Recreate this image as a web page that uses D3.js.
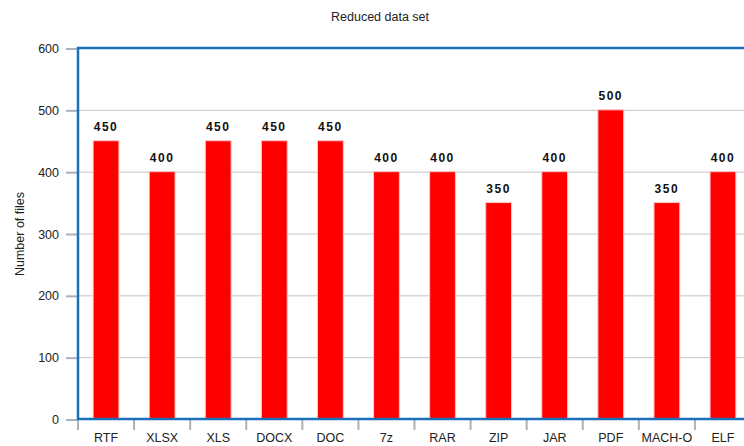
<!DOCTYPE html>
<html>
<head>
<meta charset="utf-8">
<script src="https://cdn.jsdelivr.net/npm/d3@7"></script>
<style>
  html, body { margin: 0; padding: 0; background: #fff; overflow: hidden; }
  svg { display: block; font-family: "Liberation Sans", Arial, sans-serif; }
</style>
</head>
<body>
<svg id="chart" width="744" height="446"></svg>
<script>
// File formats and the number of files for each in the reduced data set
const categories = ["RTF", "XLSX", "XLS", "DOCX", "DOC", "7z", "RAR", "ZIP", "JAR", "PDF", "MACH-O", "ELF"];
const fileCounts = [450, 400, 450, 450, 450, 400, 400, 350, 400, 500, 350, 400];
const yTicks = [0, 100, 200, 300, 400, 500, 600];
const chartTitle = "Reduced data set";
const yAxisLabel = "Number of files";

const svg = d3.select("#chart");
const margin = { left: 78, top: 48, bottom: 419, right: 751 };

const x = d3.scaleBand()
  .domain(categories)
  .range([margin.left, margin.right])
  .paddingInner(0.54)
  .paddingOuter(0.27);

const y = d3.scaleLinear()
  .domain([0, 600])
  .range([margin.bottom, margin.top]);

// Horizontal gridlines
svg.append("g")
  .selectAll("line")
  .data(yTicks.filter(d => d > 0 && d < 600))
  .join("line")
  .attr("x1", margin.left)
  .attr("x2", margin.right)
  .attr("y1", d => y(d) + 0.5)
  .attr("y2", d => y(d) + 0.5)
  .attr("stroke", "#c4c4c4")
  .attr("stroke-width", 1);

// Y axis: ticks and labels
const yAxis = d3.axisLeft(y)
  .tickValues(yTicks)
  .tickSize(12)
  .tickPadding(7);
const yg = svg.append("g")
  .attr("transform", `translate(${margin.left},0.5)`)
  .call(yAxis);
yg.select(".domain").remove();
yg.selectAll(".tick line").attr("stroke", "#a9b2bc").attr("stroke-width", 2);
yg.selectAll(".tick text")
  .attr("fill", "#222")
  .style("font-size", "12.5px")
  .style("font-family", "'Liberation Sans', Arial, sans-serif");

// X axis: boundary ticks between categories and centered labels
const boundaries = categories.map((c, i) => margin.left + i * x.step());
svg.append("g")
  .selectAll("line")
  .data(boundaries)
  .join("line")
  .attr("x1", d => d)
  .attr("x2", d => d)
  .attr("y1", margin.bottom)
  .attr("y2", margin.bottom + 11)
  .attr("stroke", "#a9b2bc")
  .attr("stroke-width", 2);

svg.append("g")
  .selectAll("text")
  .data(categories)
  .join("text")
  .attr("x", d => x(d) + x.bandwidth() / 2)
  .attr("y", 442)
  .attr("text-anchor", "middle")
  .attr("fill", "#222")
  .style("font-size", "12.5px")
  .text(d => d);

// Bars
const data = categories.map((c, i) => ({ cat: c, value: fileCounts[i] }));
svg.append("g")
  .selectAll("rect")
  .data(data)
  .join("rect")
  .attr("x", d => x(d.cat))
  .attr("y", d => y(d.value))
  .attr("width", x.bandwidth())
  .attr("height", d => y(0) - y(d.value))
  .attr("fill", "#ff0000")
  .attr("stroke", "#ffc4c4")
  .attr("stroke-width", 1);

// Value labels above bars
svg.append("g")
  .selectAll("text")
  .data(data)
  .join("text")
  .attr("x", d => x(d.cat) + x.bandwidth() / 2)
  .attr("y", d => y(d.value) - 10)
  .attr("text-anchor", "middle")
  .attr("fill", "#111")
  .style("font-size", "12px")
  .style("font-weight", "bold")
  .style("letter-spacing", "1.5px")
  .text(d => d.value);

// Plot frame (left, top, bottom)
svg.append("path")
  .attr("d", `M${margin.right + 2},${margin.top} H${margin.left} V${margin.bottom} H${margin.right + 2}`)
  .attr("fill", "none")
  .attr("stroke", "#1c6fb9")
  .attr("stroke-width", 2.5);

// Title
svg.append("text")
  .attr("x", 380)
  .attr("y", 21)
  .attr("text-anchor", "middle")
  .attr("fill", "#222")
  .style("font-size", "12.5px")
  .text(chartTitle);

// Y axis label
svg.append("text")
  .attr("transform", `translate(24,234) rotate(-90)`)
  .attr("text-anchor", "middle")
  .attr("fill", "#222")
  .style("font-size", "12.5px")
  .text(yAxisLabel);
</script>
</body>
</html>
